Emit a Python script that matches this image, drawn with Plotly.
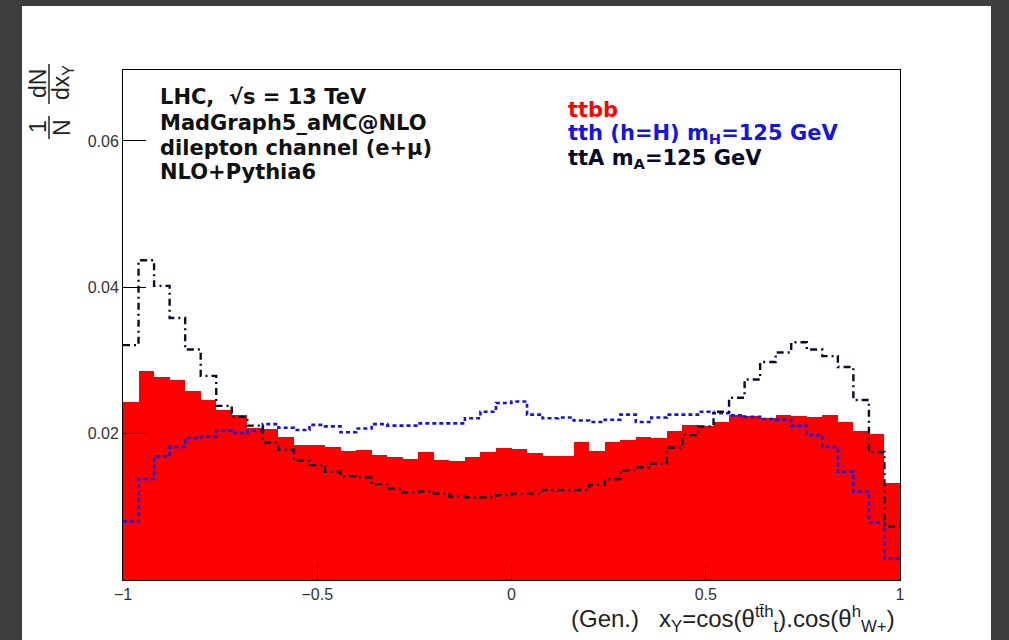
import plotly.graph_objects as go

# ---------------- data (50 bins on [-1, 1]) ----------------
x_min, x_max, n_bins = -1.0, 1.0, 50

ttbb = [0.0243, 0.0286, 0.0278, 0.0273, 0.0258, 0.0246, 0.0233, 0.0226, 0.0208, 0.0207,
        0.0196, 0.0185, 0.0185, 0.0182, 0.0176, 0.0178, 0.0171, 0.0168, 0.0166, 0.0175,
        0.0164, 0.0163, 0.0168, 0.0175, 0.0180, 0.0179, 0.0173, 0.0169, 0.0169, 0.0189,
        0.0176, 0.0189, 0.0191, 0.0196, 0.0194, 0.0203, 0.0212, 0.0210, 0.0216, 0.0226,
        0.0224, 0.0222, 0.0226, 0.0224, 0.0223, 0.0225, 0.0216, 0.0204, 0.0200, 0.0133]

tth = [0.0080, 0.0138, 0.0169, 0.0182, 0.0194, 0.0196, 0.0204, 0.0201, 0.0204, 0.0213,
       0.0208, 0.0205, 0.0212, 0.0210, 0.0202, 0.0207, 0.0213, 0.0211, 0.0211, 0.0214,
       0.0214, 0.0214, 0.0221, 0.0230, 0.0242, 0.0244, 0.0226, 0.0221, 0.0222, 0.0218,
       0.0216, 0.0219, 0.0226, 0.0216, 0.0222, 0.0226, 0.0226, 0.0230, 0.0228, 0.0225,
       0.0223, 0.0220, 0.0219, 0.0211, 0.0198, 0.0182, 0.0148, 0.0121, 0.0079, 0.0029]

ttA = [0.0321, 0.0437, 0.0402, 0.0358, 0.0315, 0.0279, 0.0238, 0.0223, 0.0211, 0.0188,
       0.0178, 0.0163, 0.0157, 0.0148, 0.0142, 0.0140, 0.0131, 0.0125, 0.0120, 0.0121,
       0.0118, 0.0114, 0.0113, 0.0113, 0.0116, 0.0118, 0.0118, 0.0123, 0.0123, 0.0123,
       0.0130, 0.0138, 0.0150, 0.0154, 0.0159, 0.0181, 0.0198, 0.0210, 0.0230, 0.0249,
       0.0274, 0.0298, 0.0311, 0.0325, 0.0315, 0.0306, 0.0291, 0.0246, 0.0175, 0.0073]

x_ticks = [-1, -0.5, 0, 0.5, 1]
y_ticks = [0.02, 0.04, 0.06]
y_tick_labels = ["0.02", "0.04", "0.06"]

info_lines = ["LHC,  √s = 13 TeV", "MadGraph5_aMC@NLO", "dilepton channel (e+μ)", "NLO+Pythia6"]
legend_lines = [("ttbb", "#ff0000"),
                ("tth (h=H) m<sub>H</sub>=125 GeV", "#1414e6"),
                ("ttA m<sub>A</sub>=125 GeV", "#0a0a2e")]

# ---------------- derived bins ----------------
bw = (x_max - x_min) / n_bins
edges = [x_min + i * bw for i in range(n_bins + 1)]
centers = [x_min + (i + 0.5) * bw for i in range(n_bins)]

# ---------------- geometry helpers (pixel -> paper) ----------------
W, H = 1009, 640
ML, MR, MT, MB = 123, 109, 70, 60
PW, PH = W - ML - MR, H - MT - MB


def px(x):
    return (x - ML) / PW


def py(y):
    return (H - MB - y) / PH


FONT = "Liberation Sans, Arial, Helvetica, sans-serif"
FONT_WIDE = "DejaVu Sans, Liberation Sans, Arial, sans-serif"

fig = go.Figure()

fig.add_trace(go.Bar(x=centers, y=ttbb, width=bw, marker_color="#ff0000",
                     marker_line_width=0, name="ttbb", showlegend=False))
fig.add_trace(go.Scatter(x=edges, y=tth + [tth[-1]], mode="lines", line_shape="hv",
                         line=dict(color="#1414e6", width=2.6, dash="4px,3px"),
                         name="tth", showlegend=False))
fig.add_trace(go.Scatter(x=edges, y=ttA + [ttA[-1]], mode="lines", line_shape="hv",
                         line=dict(color="#0a0a2e", width=2.4, dash="7px,4px,2px,4px"),
                         name="ttA", showlegend=False))

shapes = [
    # white panel
    dict(type="rect", xref="paper", yref="paper", x0=px(22), x1=px(991), y0=py(660), y1=py(6),
         fillcolor="white", line_width=0, layer="below"),
    # fraction bars of y title
    dict(type="line", xref="paper", yref="paper", x0=px(49), x1=px(49), y0=py(104), y1=py(64),
         line=dict(color="#222", width=1.5)),
    dict(type="line", xref="paper", yref="paper", x0=px(49), x1=px(49), y0=py(139), y1=py(116),
         line=dict(color="#222", width=1.5)),
]

annotations = []
info_y = [97, 123, 148, 172]
for t, yy in zip(info_lines, info_y):
    annotations.append(dict(xref="paper", yref="paper", x=px(158), y=py(yy), text=t,
                            showarrow=False, xanchor="left", yanchor="middle",
                            font=dict(family=FONT_WIDE, size=21, color="#111111", weight="bold")))
leg_y = [110, 134, 159]
for (t, c), yy in zip(legend_lines, leg_y):
    annotations.append(dict(xref="paper", yref="paper", x=px(566), y=py(yy), text=t,
                            showarrow=False, xanchor="left", yanchor="middle",
                            font=dict(family=FONT_WIDE, size=21, color=c, weight="bold")))

# y-axis title as a rotated fraction  (1/N)(dN/dx_Y)
yt_font = dict(family=FONT, size=23, color="#222222")
for t, xx, yy in [("dN", 38, 84), ("dx<sub>Y</sub>", 62, 82), ("1", 38, 127), ("N", 62, 127)]:
    annotations.append(dict(xref="paper", yref="paper", x=px(xx), y=py(yy), text=t,
                            textangle=-90, showarrow=False, xanchor="center", yanchor="middle",
                            font=yt_font))

# x-axis title
annotations.append(dict(xref="paper", yref="paper", x=px(897), y=py(619),
                        text="(Gen.)   x<sub>Y</sub>=cos(θ<sup>tt̄h</sup><sub>t</sub>).cos(θ<sup>h</sup><sub>W+</sub>)",
                        showarrow=False, xanchor="right", yanchor="middle",
                        font=dict(family=FONT, size=24, color="#222222")))

fig.update_layout(
    width=W, height=H,
    margin=dict(l=ML, r=MR, t=MT, b=MB, pad=0),
    paper_bgcolor="#3e3e3e",
    plot_bgcolor="white",
    bargap=0,
    showlegend=False,
    shapes=shapes,
    annotations=annotations,
    xaxis=dict(range=[x_min, x_max], tickvals=x_ticks, ticks="inside", ticklen=15,
               tickcolor="black", tickwidth=1, showline=True, linecolor="black", linewidth=1,
               mirror=True, showgrid=False, zeroline=False,
               tickfont=dict(family=FONT, size=16, color="#333333")),
    yaxis=dict(range=[0, 0.0697], tickvals=y_ticks, ticktext=y_tick_labels, ticks="inside",
               ticklen=23, tickcolor="black", tickwidth=1, showline=True, linecolor="black",
               linewidth=1, mirror=True, showgrid=False, zeroline=False,
               tickfont=dict(family=FONT, size=16, color="#333333")),
)

fig.write_html("out.html")
